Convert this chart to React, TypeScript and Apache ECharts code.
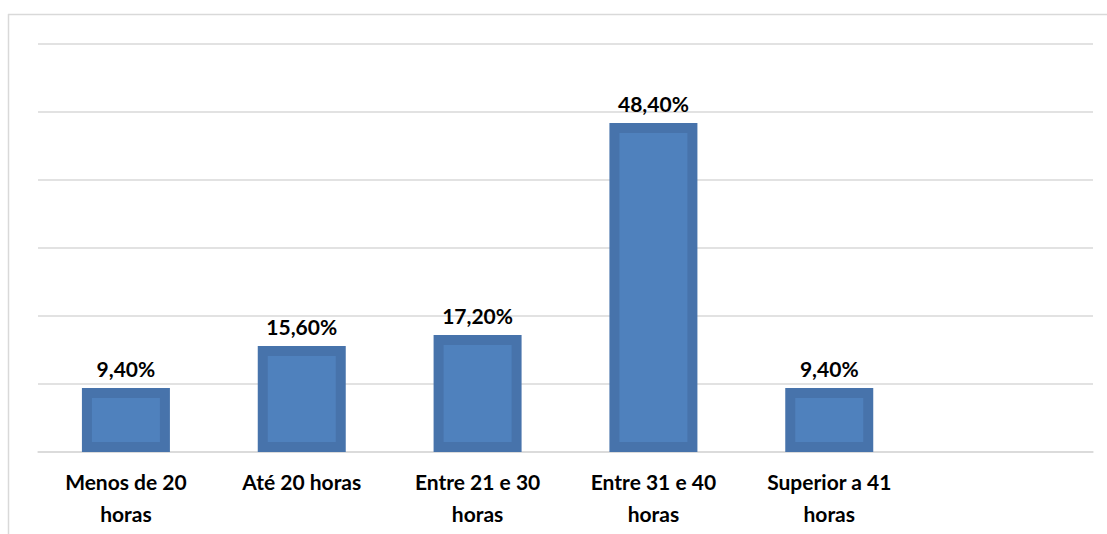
import React, { useEffect, useRef } from "react";
import * as echarts from "echarts";

const categories = [
  "Menos de 20\nhoras",
  "Até 20 horas",
  "Entre 21 e 30\nhoras",
  "Entre 31 e 40\nhoras",
  "Superior a 41\nhoras",
  "",
];
const values: (number | null)[] = [9.4, 15.6, 17.2, 48.4, 9.4, null];
const yMax = 60;
const yInterval = 10;

const OUTER = "#4773AB";
const INNER = "#4F81BD";
const GRID = "#d9d9d9";
const FONT = "Lato, 'Open Sans', sans-serif";

export default function App() {
  const ref = useRef<HTMLDivElement>(null);
  useEffect(() => {
    if (!ref.current) return;
    const chart = echarts.init(ref.current, undefined, { renderer: "svg" });
    chart.setOption({
      animation: false,
      grid: { left: 38, right: 14, top: 44, bottom: 82 },
      xAxis: {
        type: "category",
        data: categories,
        axisLine: { show: true, lineStyle: { color: GRID, width: 1.5 } },
        axisTick: { show: false },
        axisLabel: {
          interval: 0,
          color: "#000",
          fontFamily: FONT,
          fontWeight: "bold",
          fontSize: 21,
          lineHeight: 32,
          margin: 13,
        },
      },
      yAxis: {
        type: "value",
        min: 0,
        max: yMax,
        interval: yInterval,
        axisLabel: { show: false },
        axisLine: { show: false },
        axisTick: { show: false },
        splitLine: { lineStyle: { color: GRID, width: 1.5 } },
      },
      graphic: [
        {
          type: "line",
          shape: { x1: 8.5, y1: 14, x2: 8.5, y2: 534 },
          style: { stroke: GRID, lineWidth: 1.5 },
          silent: true,
        },
        {
          type: "line",
          shape: { x1: 8, y1: 14.5, x2: 1107, y2: 14.5 },
          style: { stroke: GRID, lineWidth: 1.5 },
          silent: true,
        },
      ],
      series: [
        {
          type: "bar",
          data: values,
          barWidth: 88,
          itemStyle: { color: OUTER },
          label: {
            show: true,
            position: "top",
            distance: 9,
            color: "#000",
            fontFamily: FONT,
            fontWeight: "bold",
            fontSize: 21,
            formatter: (p: any) =>
              p.value == null ? "" : p.value.toFixed(2).replace(".", ",") + "%",
          },
        },
        {
          type: "custom",
          data: values.map((v, i) => [i, v]),
          silent: true,
          z: 3,
          renderItem: (params: any, api: any) => {
            const v = api.value(1);
            if (v == null || isNaN(v)) return null;
            const top = api.coord([api.value(0), v]);
            const bottom = api.coord([api.value(0), 0]);
            const inset = 10;
            const w = 88 - inset * 2;
            const h = bottom[1] - top[1] - inset * 2;
            if (h <= 0) return null;
            return {
              type: "rect",
              shape: { x: top[0] - w / 2, y: top[1] + inset, width: w, height: h },
              style: { fill: INNER },
            };
          },
        },
      ],
    });
    return () => chart.dispose();
  }, []);
  return (
    <div
      ref={ref}
      style={{ position: "fixed", left: 0, top: 0, width: 1107, height: 534, background: "#fff" }}
    />
  );
}
